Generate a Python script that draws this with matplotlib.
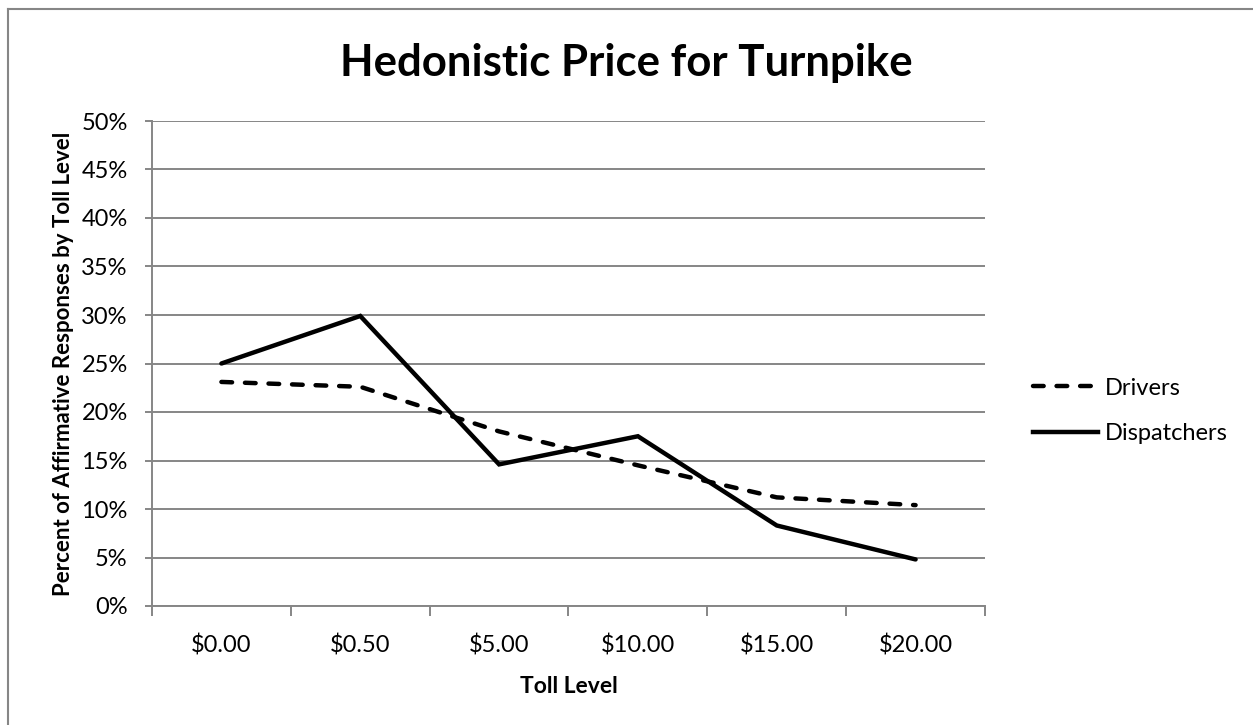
import numpy as np
import matplotlib.pyplot as plt
from matplotlib.lines import Line2D

plt.rcParams['font.family'] = ['Lato', 'DejaVu Sans']

# данные
toll_levels = ['$0.00', '$0.50', '$5.00', '$10.00', '$15.00', '$20.00']
drivers = [23.1, 22.6, 18.0, 14.5, 11.2, 10.4]
dispatchers = [25.0, 29.9, 14.6, 17.5, 8.3, 4.8]
y_ticks = [0, 5, 10, 15, 20, 25, 30, 35, 40, 45, 50]

grid_color = '#868686'
fs = 17

fig = plt.figure(figsize=(12.53, 7.25), dpi=100)
ax = fig.add_axes([152 / 1253, 1 - 606 / 725, (985 - 152) / 1253, (606 - 121) / 725])

x = np.arange(len(toll_levels))
ax.plot(x, drivers, color='black', lw=3.2, linestyle=(0, (2.4, 2.9)),
        dash_capstyle='round', solid_joinstyle='round', label='Drivers')
ax.plot(x, dispatchers, color='black', lw=3.2, solid_capstyle='round',
        solid_joinstyle='miter', label='Dispatchers')

ax.set_xlim(-0.5, len(toll_levels) - 0.5)
ax.set_ylim(0, 50)

# сетка и оси
ax.set_yticks(y_ticks)
ax.set_yticklabels([f'{v}%' for v in y_ticks], fontsize=fs)
ax.yaxis.grid(True, color=grid_color, lw=1.4)
ax.set_axisbelow(True)
ax.tick_params(axis='y', length=5, width=1.4, color=grid_color, pad=12.5)

ax.set_xticks(np.arange(-0.5, len(toll_levels)))
ax.set_xticklabels([])
ax.set_xticks(x, minor=True)
ax.set_xticklabels(toll_levels, minor=True, fontsize=fs)
ax.tick_params(axis='x', which='major', length=7, width=1.4, color=grid_color)
ax.tick_params(axis='x', which='minor', length=0, pad=20.5)

for side in ['top', 'right']:
    ax.spines[side].set_visible(False)
for side in ['left', 'bottom']:
    ax.spines[side].set_color(grid_color)
    ax.spines[side].set_linewidth(1.4)

ax.set_xlabel('Toll Level', fontsize=16.5, fontweight='bold', labelpad=14)
ax.set_ylabel('Percent of Affirmative Responses by Toll Level', fontsize=16,
              fontweight='bold', labelpad=5)

fig.text(0.5, 1 - 63 / 725, 'Hedonistic Price for Turnpike', ha='center',
         va='center', fontsize=31.5, fontweight='bold')

handles = [Line2D([], [], color='black', lw=3.2, linestyle=(0, (2.4, 2.9)),
                  dash_capstyle='round'),
           Line2D([], [], color='black', lw=3.2)]
fig.legend(handles, ['Drivers', 'Dispatchers'], loc='center left',
           bbox_to_anchor=(1012 / 1253, 1 - 411 / 725), frameon=False,
           fontsize=fs, handlelength=2.75, handletextpad=0.3, labelspacing=1.05)

# рамка области диаграммы
fig.add_artist(Line2D([8 / 1253, 8 / 1253], [0, 1 - 9 / 725], color=grid_color, lw=1.5))
fig.add_artist(Line2D([8 / 1253, 1], [1 - 9 / 725, 1 - 9 / 725], color=grid_color, lw=1.5))

fig.savefig('out.png', dpi=100)
